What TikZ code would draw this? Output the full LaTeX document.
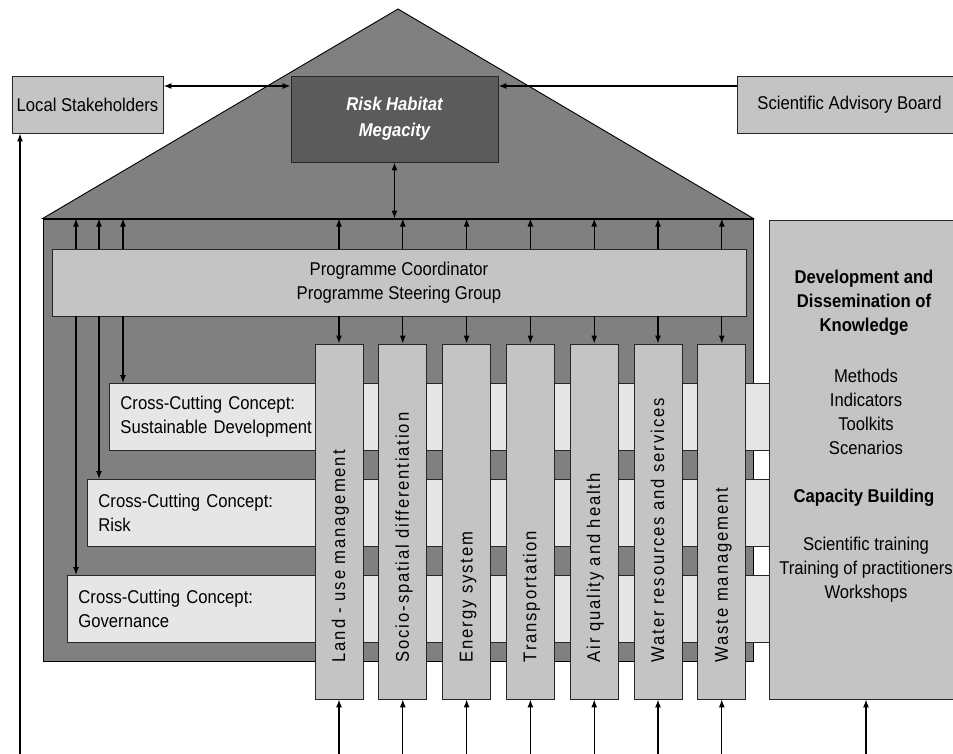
\documentclass[tikz,border=0pt]{standalone}
\usepackage{fontspec}
\setmainfont{Liberation Sans}[FakeStretch=0.9]
\newfontfamily\barfont{Liberation Sans}[FakeStretch=0.9,LetterSpace=10]
\usetikzlibrary{arrows.meta}
\usetikzlibrary{positioning}
\definecolor{housegray}{HTML}{808080}
\definecolor{riskgray}{HTML}{5B5B5B}
\definecolor{boxgray}{HTML}{C4C4C4}
\definecolor{stripgray}{HTML}{E6E6E6}
\newcommand{\diagfont}{\fontsize{18.5}{24}\selectfont}

\begin{document}
\begin{tikzpicture}[
		x=1pt, y=-1pt,
		node distance=14.9pt,
		font=\diagfont,
		box/.style={draw=black!85, line width=0.9pt, fill=boxgray, inner sep=0pt},
		strip/.style={box, fill=stripgray, anchor=north west, align=left, inner xsep=11pt, minimum height=67pt},
		bar/.style={box, minimum width=48pt, minimum height=355pt},
		barlabel/.style={rotate=90, anchor=base west, inner sep=0pt, font=\barfont\diagfont},
		arr/.style={-{Latex[length=8pt,width=6pt]}, line width=1.2pt},
		biarr/.style={{Latex[length=8pt,width=6pt]}-{Latex[length=8pt,width=6pt]}, line width=1.2pt},
	]
		\useasboundingbox (0,0) rectangle (953,754);

		\begin{scope}
			\node (body) [box, fill=housegray, draw=black, minimum width=710pt, minimum height=442pt] at (398,440) {};
			\coordinate (apex) at (398,9);
			\filldraw[fill=housegray, draw=black, line width=0.9pt] (body.north west) -- (apex) -- (body.north east) -- cycle;

			\node (prog) [box, minimum width=694pt, minimum height=67pt, align=center] at (399,282.5) {Programme Coordinator\\Programme Steering Group};

			\node (cc sd) [strip, text width=638pt] at (109,383) {Cross-Cutting Concept:\\Sustainable Development};
			\node (cc risk) [strip, text width=660pt] at (87,479) {Cross-Cutting Concept:\\Risk};
			\node (cc gov) [strip, text width=680pt] at (67,575) {Cross-Cutting Concept:\\Governance};

			\node (bar land) [bar] at (339,521.5) {};
			\node (bar socio) [bar, right=of bar land] {};
			\node (bar energy) [bar, right=of bar socio] {};
			\node (bar transport) [bar, right=of bar energy] {};
			\node (bar air) [bar, right=of bar transport] {};
			\node (bar water) [bar, right=of bar air] {};
			\node (bar waste) [bar, right=of bar water] {};

			\node [barlabel] at ([xshift=6pt,yshift=37pt]bar land.south) {Land - use management};
			\node [barlabel] at ([xshift=6pt,yshift=37pt]bar socio.south) {Socio-spatial differentiation};
			\node [barlabel] at ([xshift=6pt,yshift=37pt]bar energy.south) {Energy system};
			\node [barlabel] at ([xshift=6pt,yshift=37pt]bar transport.south) {Transportation};
			\node [barlabel] at ([xshift=6pt,yshift=37pt]bar air.south) {Air quality and health};
			\node [barlabel] at ([xshift=6pt,yshift=37pt]bar water.south) {Water resources and services};
			\node [barlabel] at ([xshift=6pt,yshift=37pt]bar waste.south) {Waste management};
		\end{scope}

		\begin{scope}
			\node (know) [box, minimum width=194pt, minimum height=479pt] at (866,459.5) {};
			\node (know head) [align=center, font=\diagfont\bfseries] at (864,303) {Development and\\Dissemination of\\Knowledge};
			\node (know list) [align=center] at (866,411.5) {Methods\\Indicators\\Toolkits\\Scenarios};
			\node (cap head) [font=\diagfont\bfseries] at (864,498) {Capacity Building};
			\node (cap list) [align=center] at (866,570) {Scientific training\\Training of practitioners\\Workshops};
		\end{scope}

		\begin{scope}
			\node (risk) [box, fill=riskgray, minimum width=207pt, minimum height=86pt, align=center, text=white, font=\diagfont\bfseries\itshape] at (394.5,119) {Risk Habitat\\[2pt]Megacity};
			\node (local) [box, minimum width=151pt, minimum height=57pt] at (87.5,104.5) {Local Stakeholders};
			\node (board) [box, minimum width=225pt, minimum height=57pt] at (849.5,104.5) {Scientific Advisory Board};
		\end{scope}

		\coordinate (link) at (0,86);
		\coordinate (bottom) at (0,754);
		\coordinate (lane gov) at (76,0);
		\coordinate (lane risk) at (99,0);
		\coordinate (lane sd) at (123,0);
		\coordinate (local in) at (20,754);

		\draw[biarr] (local.east|-link) -- (risk.west|-link);
		\draw[arr] (board.west|-link) -- (risk.east|-link);
		\draw[biarr] (risk.south) -- (risk.south|-body.north);
		\draw[arr] (local in) -- (local in|-local.south);

		\draw[arr] (lane gov|-prog.north) -- (lane gov|-body.north);
		\draw[arr] (lane risk|-prog.north) -- (lane risk|-body.north);
		\draw[arr] (lane sd|-prog.north) -- (lane sd|-body.north);
		\draw[arr] (lane gov|-prog.south) -- (lane gov|-cc gov.north);
		\draw[arr] (lane risk|-prog.south) -- (lane risk|-cc risk.north);
		\draw[arr] (lane sd|-prog.south) -- (lane sd|-cc sd.north);

		\draw[arr] (bar land.north|-prog.north) -- (bar land.north|-body.north);
		\draw[arr] (bar socio.north|-prog.north) -- (bar socio.north|-body.north);
		\draw[arr] (bar energy.north|-prog.north) -- (bar energy.north|-body.north);
		\draw[arr] (bar transport.north|-prog.north) -- (bar transport.north|-body.north);
		\draw[arr] (bar air.north|-prog.north) -- (bar air.north|-body.north);
		\draw[arr] (bar water.north|-prog.north) -- (bar water.north|-body.north);
		\draw[arr] (bar waste.north|-prog.north) -- (bar waste.north|-body.north);

		\draw[arr] (bar land.north|-prog.south) -- (bar land.north);
		\draw[arr] (bar socio.north|-prog.south) -- (bar socio.north);
		\draw[arr] (bar energy.north|-prog.south) -- (bar energy.north);
		\draw[arr] (bar transport.north|-prog.south) -- (bar transport.north);
		\draw[arr] (bar air.north|-prog.south) -- (bar air.north);
		\draw[arr] (bar water.north|-prog.south) -- (bar water.north);
		\draw[arr] (bar waste.north|-prog.south) -- (bar waste.north);

		\draw[arr] (bar land.south|-bottom) -- (bar land.south);
		\draw[arr] (bar socio.south|-bottom) -- (bar socio.south);
		\draw[arr] (bar energy.south|-bottom) -- (bar energy.south);
		\draw[arr] (bar transport.south|-bottom) -- (bar transport.south);
		\draw[arr] (bar air.south|-bottom) -- (bar air.south);
		\draw[arr] (bar water.south|-bottom) -- (bar water.south);
		\draw[arr] (bar waste.south|-bottom) -- (bar waste.south);
		\draw[arr] (know.south|-bottom) -- (know.south);
	\end{tikzpicture}
\end{document}
